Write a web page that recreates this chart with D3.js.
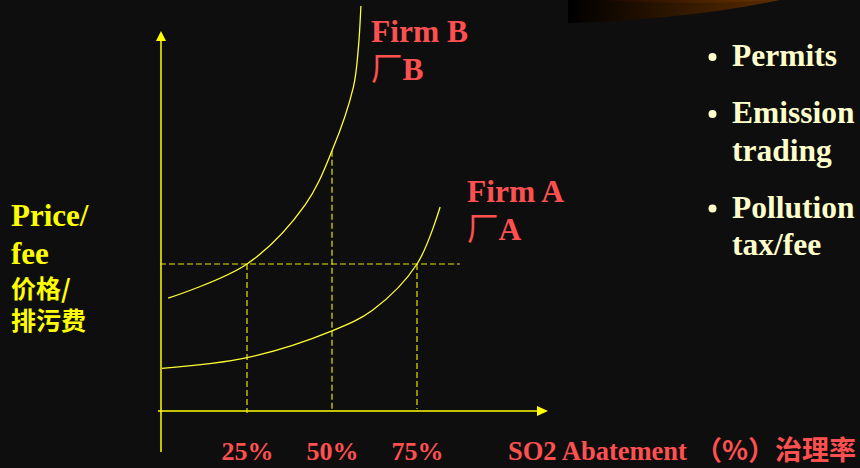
<!DOCTYPE html>
<html>
<head>
<meta charset="utf-8">
<script src="https://cdn.jsdelivr.net/npm/d3@7"></script>
<style>
  html, body { margin: 0; padding: 0; background: #0e0e0e; }
  svg { display: block; }
</style>
</head>
<body>
<script>
// Abatement share (%) on the x axis, marginal cost / price on the y axis
const xTicks = [25, 50, 75];
const xTickLabels = ["25%", "50%", "75%"];
const priceLevel = 40;            // common permit price / pollution fee
const priceLineEnd = 87.6;        // how far the price line runs (%)
const firmBAt50 = 70.8;           // firm B's marginal cost at 50% abatement

// marginal abatement cost curves
const firmA = [[0, 11.6], [25, 14.5], [50, 21.8], [62, 27.5], [75, 40], [81.8, 55.5]];
const firmB = [[1.8, 30.7], [25, 40], [42.1, 56.1], [50, firmBAt50],
               [56.3, 88.2], [57.7, 98.2], [58.5, 110.2]];

const bullets = [["Permits"], ["Emission", "trading"], ["Pollution", "tax/fee"]];
const yLabelEn = ["Price/", "fee"];
const yLabelZh = ["价格/", "排污费"];

const W = 860, H = 468;
const YELLOW = "#ffff00", RED = "#ff5050", CREAM = "#ffffcc";
const SERIF = "'Liberation Serif', 'Times New Roman', serif";
const CJK = "'Noto Sans CJK SC', sans-serif";

const svg = d3.select("body").append("svg").attr("width", W).attr("height", H);
svg.append("rect").attr("width", W).attr("height", H).attr("fill", "#0e0e0e");

// decorative swoosh at the top right
const defs = svg.append("defs");
const g1 = defs.append("linearGradient").attr("id", "swoosh1");
g1.append("stop").attr("offset", "0").attr("stop-color", "#000");
g1.append("stop").attr("offset", "1").attr("stop-color", "#5c2c00");
const g2 = defs.append("linearGradient").attr("id", "swoosh2");
g2.append("stop").attr("offset", "0").attr("stop-color", "#1a0600");
g2.append("stop").attr("offset", "1").attr("stop-color", "#6a3400");
svg.append("path").attr("d", "M568,0 L568,23 Q690,19 780,0 Z").attr("fill", "url(#swoosh1)");
svg.append("path").attr("d", "M600,0 Q700,6 772,0 Z").attr("fill", "url(#swoosh2)");

const x = d3.scaleLinear().domain([0, 100]).range([162, 502]);
const y = d3.scaleLinear().domain([0, 100]).range([411, 43.5]);

// axes with arrow heads
svg.append("line").attr("x1", x(0) - 1).attr("x2", x(0) - 1).attr("y1", 452).attr("y2", 40)
  .attr("stroke", YELLOW).attr("stroke-width", 1.5);
svg.append("path").attr("d", `M${x(0) - 1},31 L${x(0) - 6},41 L${x(0) + 4},41 Z`).attr("fill", YELLOW);
svg.append("line").attr("x1", 158).attr("x2", 538).attr("y1", y(0)).attr("y2", y(0))
  .attr("stroke", YELLOW).attr("stroke-width", 1.5);
svg.append("path").attr("d", `M548,${y(0)} L537,${y(0) - 5} L537,${y(0) + 5} Z`).attr("fill", YELLOW);

// dashed guides
function dashed(x1, y1, x2, y2) {
  svg.append("line").attr("x1", x1).attr("y1", y1).attr("x2", x2).attr("y2", y2)
    .attr("stroke", "#e6e600").attr("stroke-width", 1.2).attr("stroke-dasharray", "6,3");
}
dashed(x(0) - 2, y(priceLevel), x(priceLineEnd), y(priceLevel));
dashed(x(25), y(priceLevel), x(25), y(0) + 2);
dashed(x(50), y(firmBAt50), x(50), y(0));
dashed(x(75), y(priceLevel), x(75), y(0) - 2);

// cost curves
const line = d3.line().x(d => x(d[0])).y(d => y(d[1])).curve(d3.curveCatmullRom.alpha(0.5));
[firmA, firmB].forEach(s => svg.append("path").attr("d", line(s))
  .attr("fill", "none").attr("stroke", "#ffff33").attr("stroke-width", 1.3));

// x tick labels
const xAxis = d3.axisBottom(x).tickValues(xTicks).tickSize(0)
  .tickFormat((d, i) => xTickLabels[i]);
const ax = svg.append("g").attr("transform", `translate(0,${y(0)})`).call(xAxis);
ax.select(".domain").remove();
ax.selectAll("text").attr("y", 49).attr("dy", 0)
  .attr("fill", RED).attr("font-family", SERIF).attr("font-weight", "bold").attr("font-size", 26);

// x axis title
svg.append("text").attr("x", 508).attr("y", 460).attr("fill", RED)
  .attr("font-family", SERIF).attr("font-weight", "bold").attr("font-size", 26.5).text("SO2 Abatement");
svg.append("text").attr("x", 695).attr("y", 460).attr("fill", RED)
  .attr("font-family", CJK).attr("font-weight", "bold").attr("font-size", 27).text("（%）治理率");

// y axis title
yLabelEn.forEach((t, i) => svg.append("text").attr("x", 11).attr("y", 226 + i * 38)
  .attr("fill", YELLOW).attr("font-family", SERIF).attr("font-weight", "bold")
  .attr("font-size", 31).text(t));
yLabelZh.forEach((t, i) => svg.append("text").attr("x", 11).attr("y", 298 + i * 32)
  .attr("fill", YELLOW).attr("font-family", CJK).attr("font-weight", "bold")
  .attr("font-size", 25).text(t));

// firm labels
function firmLabel(name, letter, lx, ly) {
  svg.append("text").attr("x", lx).attr("y", ly).attr("fill", RED)
    .attr("font-family", SERIF).attr("font-weight", "bold").attr("font-size", 31.5).text("Firm " + letter);
  const t = svg.append("text").attr("x", lx).attr("y", ly + 38).attr("fill", RED).attr("font-size", 31.5);
  t.append("tspan").attr("font-family", CJK).attr("font-weight", "normal").text(name);
  t.append("tspan").attr("font-family", SERIF).attr("font-weight", "bold").text(letter);
}
firmLabel("厂", "B", 371, 42);
firmLabel("厂", "A", 467, 202);

// policy instruments list
let by = 66;
bullets.forEach((lines, i) => {
  if (i > 0) by += 57;
  svg.append("circle").attr("cx", 712.5).attr("cy", by - 9).attr("r", 4).attr("fill", CREAM);
  lines.forEach((t, j) => {
    if (j > 0) by += 37.5;
    svg.append("text").attr("x", 732).attr("y", by).attr("fill", CREAM)
      .attr("font-family", SERIF).attr("font-weight", "bold").attr("font-size", 31.5).text(t);
  });
});
</script>
</body>
</html>
